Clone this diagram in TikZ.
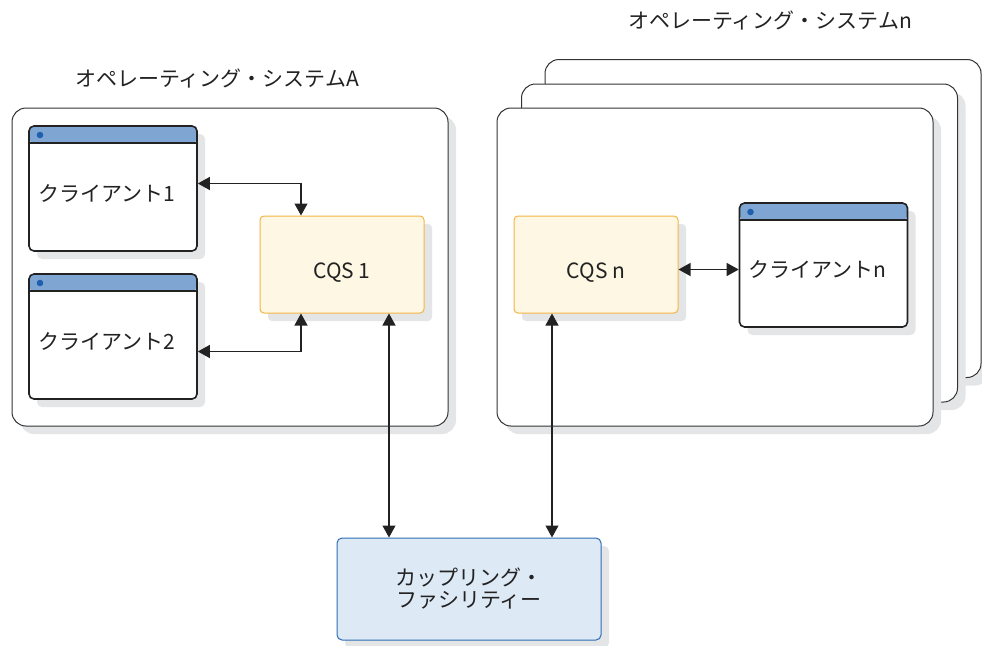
\documentclass[tikz,border=0pt]{standalone}
\usepackage{fontspec}
\setmainfont{Noto Sans CJK JP}
\usetikzlibrary{arrows.meta,shadows}
\definecolor{boxline}{HTML}{333333}
\definecolor{winline}{HTML}{222222}
\definecolor{winblue}{HTML}{7FA6D2}
\definecolor{dotblue}{HTML}{1F5FAE}
\definecolor{cqsfill}{HTML}{FDF7E4}
\definecolor{cqsline}{HTML}{F4B544}
\definecolor{cffill}{HTML}{DDE9F5}
\definecolor{cfline}{HTML}{2F6DB5}
\definecolor{shade}{HTML}{E4E5E7}
\definecolor{ink}{HTML}{222222}

\begin{document}
\begin{tikzpicture}[x=1pt,y=-1pt,
    font=\fontsize{21}{22}\selectfont, text=ink,
    shade/.style={drop shadow={shadow xshift=8pt,shadow yshift=-8pt,fill=shade,opacity=1}},
    os/.style={draw=boxline, line width=1pt, rounded corners=14pt, fill=white,
        minimum width=436pt, minimum height=318pt, shade},
    window/.style={draw=winline, line width=1.6pt, rounded corners=5pt, fill=white,
        minimum width=168pt, minimum height=125pt, text width=150pt, inner xsep=9pt,
        text height=29pt, text depth=4pt, align=left, shade,
        path picture={
            \fill[winblue] (path picture bounding box.north west) rectangle ([yshift=-17pt]path picture bounding box.north east);
            \draw[winline,line width=1.6pt] ([yshift=-17pt]path picture bounding box.north west) -- ([yshift=-17pt]path picture bounding box.north east);
            \fill[dotblue] ([xshift=11pt,yshift=-9pt]path picture bounding box.north west) circle (3.3pt);
        }},
    cqs/.style={draw=cqsline, line width=1pt, rounded corners=4pt, fill=cqsfill,
        minimum width=164pt, minimum height=97pt, text height=32pt, text depth=4pt, shade},
    cf/.style={draw=cfline, line width=1pt, rounded corners=5pt, fill=cffill,
        minimum width=264pt, minimum height=102pt, align=center, shade},
    link/.style={draw=winline, line width=1.2pt, {Triangle[length=12pt,width=13pt]}-{Triangle[length=12pt,width=13pt]}}]
    \useasboundingbox (0,0) rectangle (982,645);
    %os a
    \node[os] (osA) at (230,267) {};
    \node (labA) at (217,78) {オペレーティング・システムA};
    \node[window] (cl1) at (113,188.5) {クライアント1};
    \node[window] (cl2) at (113,336.5) {クライアント2};
    \node[cqs] (cqs1) at (342,264.5) {CQS 1};
    %os n
    \node[os] (osn3) at (763,218.5) {};
    \node[os] (osn2) at (739.5,243) {};
    \node[os] (osn1) at (715,267) {};
    \node (labn) at (770,20) {オペレーティング・システムn};
    \node[cqs] (cqsn) at (596,264.5) {CQS n};
    \node[window, minimum width=167pt, minimum height=124pt] (cln) at (823.5,265) {クライアントn};
    %coupling facility
    \node[cf] (cf) at (469,589) {カップリング・\\ファシリティー};
    %links
    \draw[link] ([yshift=5pt]cl1.east) -| ([xshift=-41pt]cqs1.north);
    \draw[link] ([yshift=-15pt]cl2.east) -| ([xshift=-41pt]cqs1.south);
    \draw[link] ([xshift=47pt]cqs1.south) -- ([xshift=47pt]cqs1.south |- cf.north);
    \draw[link] ([xshift=-44pt]cqsn.south) -- ([xshift=-44pt]cqsn.south |- cf.north);
    \draw[link] ([yshift=-5pt]cqsn.east) -- ([yshift=-5pt]cqsn.east -| cln.west);
\end{tikzpicture}
\end{document}
